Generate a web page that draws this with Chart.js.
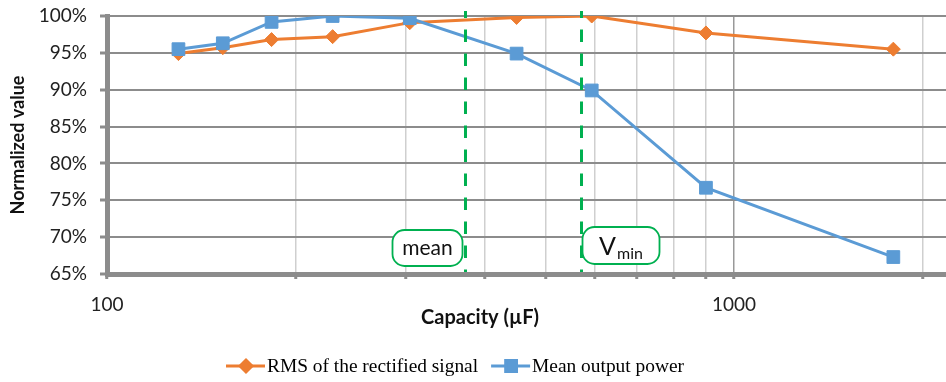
<!DOCTYPE html>
<html>
<head>
<meta charset="utf-8">
<script src="https://cdn.jsdelivr.net/npm/chart.js@4/dist/chart.umd.min.js"></script>
<style>
  html, body { margin: 0; padding: 0; background: #fff; }
</style>
</head>
<body>
<canvas id="chart" width="946" height="382"></canvas>
<script>
// capacity sweep (µF) and normalized results (%)
const capacity = [130, 153, 183, 229, 304, 450, 593, 902, 1795];
const rmsSignal = [94.9, 95.7, 96.8, 97.2, 99.1, 99.8, 100, 97.7, 95.5];
const outputPower = [95.5, 96.3, 99.2, 100, 99.7, 94.9, 89.9, 76.7, 67.3];

// axis ticks
const xTicks = [100, 200, 300, 400, 500, 600, 700, 800, 900, 1000, 2000];
const xTickLabels = [100, 1000];
const yTicks = [65, 70, 75, 80, 85, 90, 95, 100];

// vertical reference capacities
const markerCapacity = [372, 571];
const markerText = ['mean', 'V'];
const markerSub = ['', 'min'];

const GREEN = '#00B050';
const AXIS = '#8c8c8c';
const FONT = 'Lato';

const toPoints = vals => capacity.map((c, i) => ({ x: c, y: vals[i] }));

// dashed lines + labelled boxes
const markersPlugin = {
  id: 'markers',
  afterDatasetsDraw(chart) {
    const { ctx, chartArea, scales: { x } } = chart;
    ctx.save();
    markerCapacity.forEach((c, i) => {
      const px = Math.round(x.getPixelForValue(c)) + 0.5;
      ctx.strokeStyle = GREEN;
      ctx.lineWidth = 3;
      ctx.setLineDash([12.5, 11.5]);
      ctx.lineDashOffset = 5.5;
      ctx.beginPath();
      ctx.moveTo(px, 11);
      ctx.lineTo(px, chartArea.bottom - 2);
      ctx.stroke();
      ctx.setLineDash([]);

      // box sits left of the first line, right of the second
      const w = i === 0 ? 70 : 77;
      const h = i === 0 ? 36 : 37;
      const left = i === 0 ? px - 73 : px + 1;
      const top = i === 0 ? 230 : 227;
      ctx.beginPath();
      ctx.roundRect(left, top, w, h, 12);
      ctx.fillStyle = '#fff';
      ctx.fill();
      ctx.lineWidth = 1.8;
      ctx.strokeStyle = GREEN;
      ctx.stroke();

      ctx.fillStyle = '#111';
      ctx.textBaseline = 'alphabetic';
      if (!markerSub[i]) {
        ctx.font = '21px ' + FONT;
        ctx.textAlign = 'center';
        ctx.fillText(markerText[i], left + w / 2, top + h / 2 + 7);
      } else {
        ctx.font = '25px ' + FONT;
        ctx.textAlign = 'left';
        const mainW = ctx.measureText(markerText[i]).width;
        ctx.font = '16px ' + FONT;
        const subW = ctx.measureText(markerSub[i]).width;
        const sx = left + (w - mainW - subW - 1) / 2;
        ctx.font = '25px ' + FONT;
        ctx.fillText(markerText[i], sx, top + 28);
        ctx.font = '16px ' + FONT;
        ctx.fillText(markerSub[i], sx + mainW + 1, top + 32);
      }
    });
    ctx.restore();
  }
};

// x title and bottom legend
const extrasPlugin = {
  id: 'extras',
  afterDraw(chart) {
    const ctx = chart.ctx;
    ctx.save();
    ctx.fillStyle = '#111';
    ctx.font = 'bold 20px ' + FONT;
    ctx.textAlign = 'center';
    ctx.textBaseline = 'middle';
    ctx.fillText('Capacity (µF)', 480, 318);

    let lx = 226;
    const ly = 366;
    ctx.textAlign = 'left';
    ctx.font = '19.4px "Liberation Serif"';
    chart.data.datasets.forEach(ds => {
      ctx.strokeStyle = ds.borderColor;
      ctx.fillStyle = ds.backgroundColor;
      ctx.lineWidth = 3;
      ctx.beginPath();
      ctx.moveTo(lx, ly);
      ctx.lineTo(lx + 39, ly);
      ctx.stroke();
      Chart.helpers.drawPoint(ctx, {
        pointStyle: ds.pointStyle,
        radius: ds.pointRadius * 0.85,
        borderWidth: 1,
        rotation: 0
      }, lx + 20, ly);
      ctx.fillStyle = '#000';
      ctx.fillText(ds.label, lx + 41, ly + 1);
      lx += 41 + ctx.measureText(ds.label).width + 13;
    });
    ctx.restore();
  }
};

new Chart(document.getElementById('chart'), {
  type: 'line',
  data: {
    datasets: [
      {
        label: 'RMS of the rectified signal',
        data: toPoints(rmsSignal),
        borderColor: '#ED7D31',
        backgroundColor: '#ED7D31',
        borderWidth: 3,
        pointStyle: 'rectRot',
        pointRadius: 7,
        pointBorderWidth: 1,
        tension: 0,
        order: 1
      },
      {
        label: 'Mean output power',
        data: toPoints(outputPower),
        borderColor: '#5B9BD5',
        backgroundColor: '#5B9BD5',
        borderWidth: 3,
        pointStyle: 'rect',
        pointRadius: 9,
        pointBorderWidth: 1,
        tension: 0,
        order: 0
      }
    ]
  },
  options: {
    responsive: false,
    animation: false,
    devicePixelRatio: 1,
    layout: { autoPadding: false, padding: { top: 16, left: 0, right: 0, bottom: 0 } },
    plugins: {
      legend: { display: false },
      tooltip: { enabled: false }
    },
    scales: {
      x: {
        type: 'logarithmic',
        min: 100,
        max: 2178,
        afterBuildTicks: s => { s.ticks = xTicks.map(v => ({ value: v })); },
        afterFit: s => {
          s.height = 108;
          s.paddingLeft = 0;
          s.paddingRight = 0;
        },
        ticks: {
          autoSkip: false,
          maxRotation: 0,
          padding: 14,
          color: '#222',
          font: { family: FONT, size: 19 },
          callback: v => xTickLabels.includes(v) ? String(v) : ''
        },
        grid: {
          color: c => c.tick && c.tick.value === 1000 ? '#999' : '#cfcfcf',
          lineWidth: 1.5,
          tickColor: AXIS,
          tickLength: 5,
          tickWidth: 3
        },
        border: { color: AXIS, width: 5 }
      },
      y: {
        min: 65,
        max: 100,
        afterBuildTicks: s => { s.ticks = yTicks.map(v => ({ value: v })); },
        afterFit: s => {
          s.width = 107;
          s.paddingTop = 0;
          s.paddingBottom = 0;
        },
        ticks: {
          padding: 13,
          color: '#222',
          font: { family: FONT, size: 19 },
          callback: v => v + '%'
        },
        grid: {
          color: AXIS,
          lineWidth: 2,
          tickColor: AXIS,
          tickLength: 7,
          tickWidth: 3
        },
        border: { color: AXIS, width: 5 },
        title: {
          display: true,
          text: 'Normalized value',
          color: '#111',
          font: { family: FONT, size: 18, weight: 'bold' },
          padding: { top: 7, bottom: 0 }
        }
      }
    }
  },
  plugins: [markersPlugin, extrasPlugin]
});
</script>
</body>
</html>
